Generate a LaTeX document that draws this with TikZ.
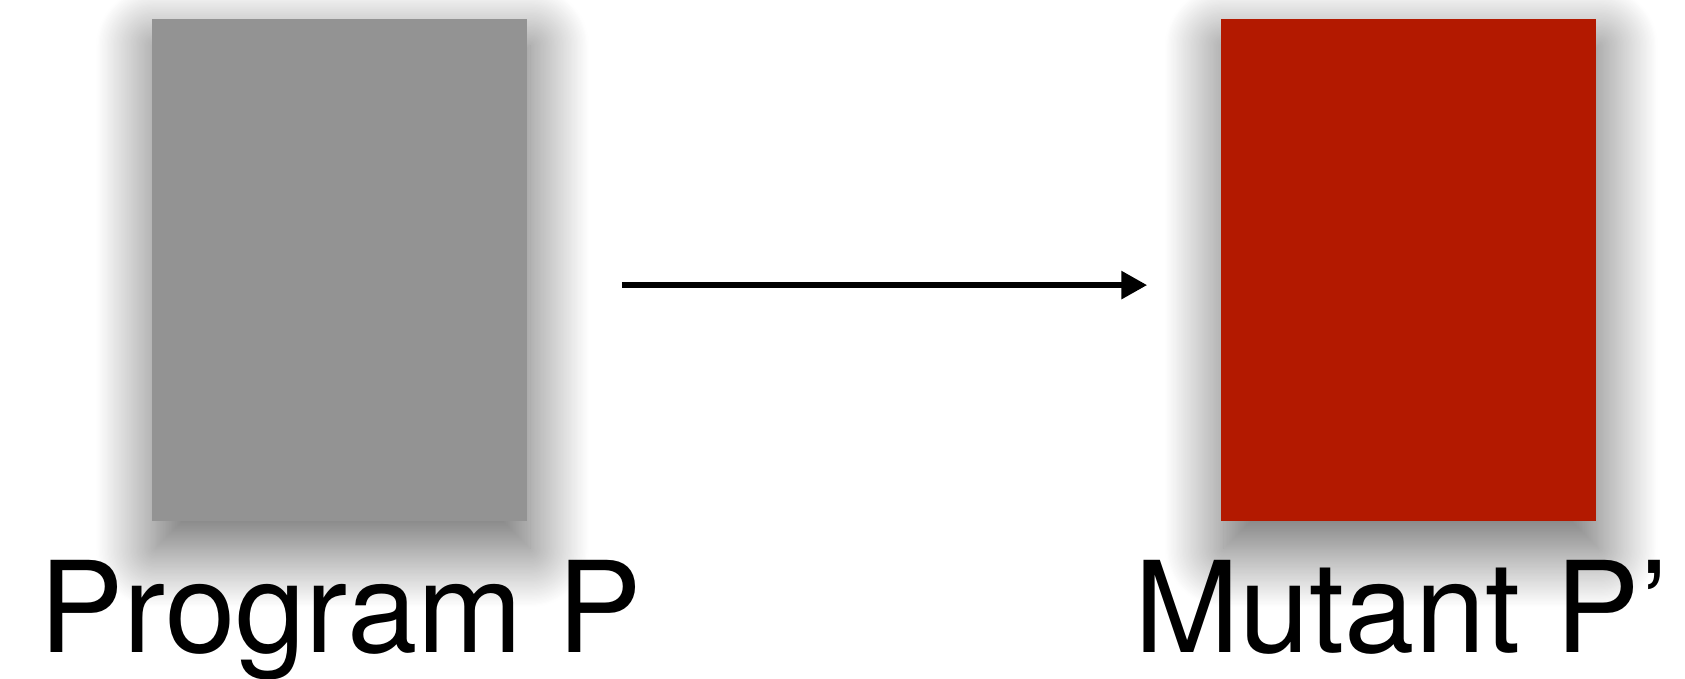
\documentclass[tikz,border=0pt]{standalone}
\usepackage{fontspec}
\setmainfont{TeX Gyre Heros}
\usepackage{tikz}
\usetikzlibrary{positioning}
\usetikzlibrary{arrows.meta,shadows.blur}

\definecolor{progGray}{RGB}{147,147,147}
\definecolor{mutRed}{RGB}{179,25,0}

\tikzset{
  codebox/.style={rectangle, inner sep=0pt, minimum width=6.98cm, minimum height=9.36cm,
    blur shadow={shadow xshift=0.06cm, shadow yshift=-0.5cm, shadow blur radius=1.1cm,
      shadow blur steps=50, shadow opacity=62, shadow scale=1.0}},
  boxlabel/.style={anchor=base west, inner sep=0pt, font=\fontsize{67}{70}\selectfont},
}

\begin{document}
\begin{tikzpicture}[x=0.02cm, y=-0.02cm]
\useasboundingbox (0,0) rectangle (1568,631);
\node[codebox, fill=progGray, anchor=north west] (prog) at (141,17) {};
\node[codebox, fill=mutRed, right=12.9cm of prog] (mutant) {};
\node[boxlabel] (progl) at (36,607) {Program P};
\node[boxlabel] (mutl) at (1055,607) {Mutant P’};
\draw[line width=3.2pt, -{Triangle[length=0.48cm,width=0.5cm]}, shorten <=1.76cm, shorten >=1.36cm]
  ([yshift=-0.28cm]prog.east) -- ([yshift=-0.28cm]mutant.west);
\end{tikzpicture}
\end{document}
